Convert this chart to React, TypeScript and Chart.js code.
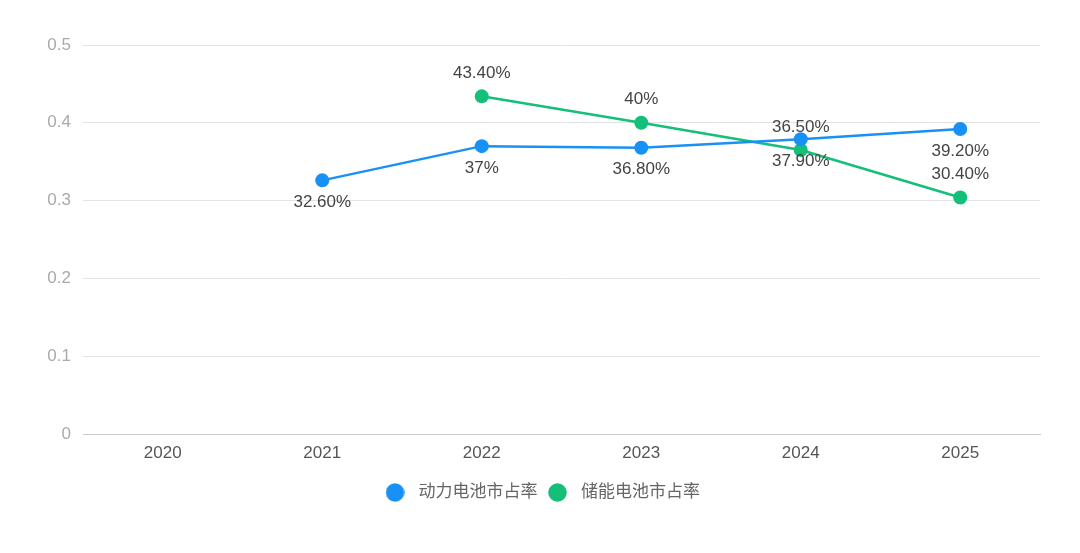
import React, { useEffect, useRef } from "react";
import { Chart, registerables } from "chart.js";

Chart.register(...registerables);

const categories = ["2020", "2021", "2022", "2023", "2024", "2025"];
const powerShare = [null, 0.326, 0.37, 0.368, 0.379, 0.392];
const storageShare = [null, null, 0.434, 0.4, 0.365, 0.304];
const powerLabels = ["", "32.60%", "37%", "36.80%", "37.90%", "39.20%"];
const storageLabels = ["", "", "43.40%", "40%", "36.50%", "30.40%"];
const seriesNames = ["动力电池市占率", "储能电池市占率"];
const yTicks = [0, 0.1, 0.2, 0.3, 0.4, 0.5];

const BLUE = "#1890f5";
const GREEN = "#14bf7a";
const FONT = "'Liberation Sans', Arial, 'Noto Sans CJK SC', sans-serif";

function dot(color: string) {
  const c = document.createElement("canvas");
  c.width = 19;
  c.height = 19;
  const g = c.getContext("2d")!;
  g.fillStyle = color;
  g.beginPath();
  g.arc(9.5, 9.5, 9.3, 0, Math.PI * 2);
  g.fill();
  return c;
}

const labelPlugin = {
  id: "pointLabels",
  afterDatasetsDraw(chart: any) {
    const ctx = chart.ctx;
    ctx.save();
    ctx.font = `17px ${FONT}`;
    ctx.fillStyle = "#444444";
    ctx.textAlign = "center";
    ctx.textBaseline = "middle";
    chart.data.datasets.forEach((ds: any, di: number) => {
      const meta = chart.getDatasetMeta(di);
      const labels = di === 0 ? powerLabels : storageLabels;
      const dy = di === 0 ? 22 : -23;
      meta.data.forEach((pt: any, i: number) => {
        if (ds.data[i] == null || !labels[i]) return;
        ctx.fillText(labels[i], pt.x, pt.y + dy);
      });
    });
    ctx.restore();
  },
};

export default function App() {
  const ref = useRef<HTMLCanvasElement>(null);
  useEffect(() => {
    if (!ref.current) return;
    const dots = [dot(BLUE), dot(GREEN)];
    const chart = new Chart(ref.current, {
      type: "line",
      data: {
        labels: categories,
        datasets: [
          {
            label: seriesNames[0],
            data: powerShare,
            borderColor: BLUE,
            backgroundColor: BLUE,
            borderWidth: 2.5,
            pointRadius: 7,
            pointHoverRadius: 7,
            pointBorderWidth: 0,
            tension: 0,
          },
          {
            label: seriesNames[1],
            data: storageShare,
            borderColor: GREEN,
            backgroundColor: GREEN,
            borderWidth: 2.5,
            pointRadius: 7,
            pointHoverRadius: 7,
            pointBorderWidth: 0,
            tension: 0,
          },
        ],
      } as any,
      options: {
        responsive: false,
        animation: false,
        layout: { padding: { top: 45, right: 0, left: 0, bottom: 42 } },
        plugins: {
          tooltip: { enabled: false },
          legend: {
            position: "bottom",
            labels: {
              usePointStyle: true,
              pointStyleWidth: 30,
              boxHeight: 13,
              padding: 5,
              color: "#666666",
              font: { size: 17, family: FONT },
              generateLabels: (c: any) => {
                const items = Chart.defaults.plugins.legend.labels.generateLabels(c);
                items.forEach((it: any, i: number) => {
                  it.pointStyle = dots[i];
                });
                return items;
              },
            },
          },
        },
        scales: {
          x: {
            offset: true,
            grid: { display: false, drawTicks: false },
            border: { display: true, color: "#cccccc", width: 1 },
            ticks: { color: "#555555", font: { size: 17, family: FONT }, padding: 9 },
            afterFit: (s: any) => {
              s.height = 45;
            },
          },
          y: {
            min: 0,
            max: 0.5,
            afterBuildTicks: (s: any) => {
              s.ticks = yTicks.map((v) => ({ value: v }));
            },
            grid: { color: "#e3e3e3", drawTicks: false },
            border: { display: false },
            ticks: {
              color: "#aaaaaa",
              font: { size: 17, family: FONT },
              padding: 12,
              callback: (v: any) => String(v),
            },
            afterFit: (s: any) => {
              s.width = 83;
            },
          },
          yRight: {
            position: "right",
            min: 0,
            max: 0.5,
            grid: { display: false, drawTicks: false },
            border: { display: false },
            ticks: { display: false },
            afterFit: (s: any) => {
              s.width = 40;
            },
          },
        },
      } as any,
      plugins: [labelPlugin],
    });
    return () => chart.destroy();
  }, []);
  return (
    <div style={{ position: "fixed", left: 0, top: 0, width: 1080, height: 553, background: "#fff" }}>
      <canvas ref={ref} width={1080} height={553} />
    </div>
  );
}
